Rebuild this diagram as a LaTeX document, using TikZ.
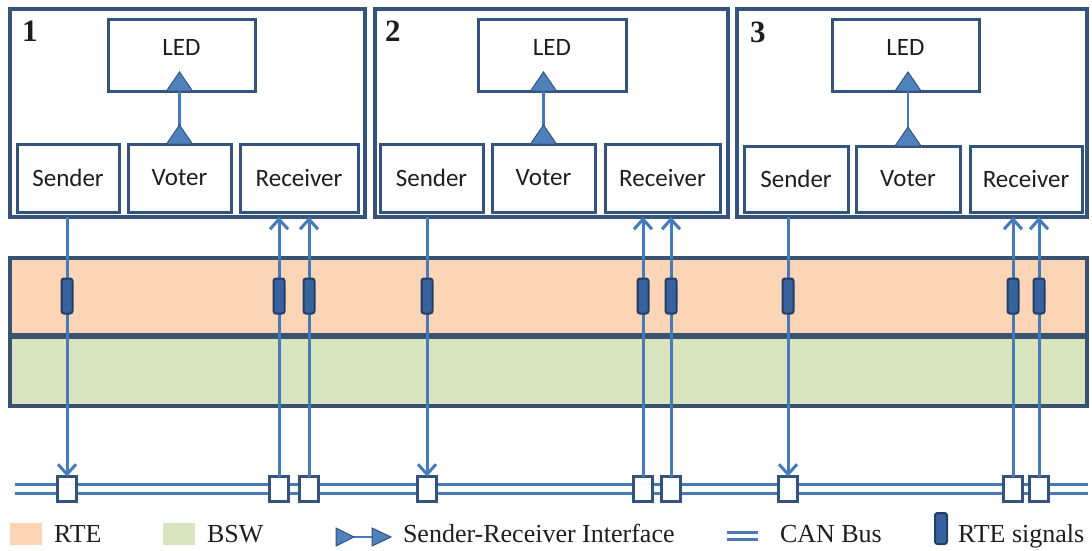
\documentclass[tikz,border=0pt]{standalone}
\usepackage{fontspec}
\setmainfont{Liberation Serif}
\newfontfamily\calfont{Carlito}
\usetikzlibrary{arrows.meta}
\definecolor{boxc}{RGB}{52,84,126}
\definecolor{linec}{RGB}{70,122,184}
\definecolor{trif}{RGB}{79,129,189}
\definecolor{rtec}{RGB}{251,213,181}
\definecolor{bswc}{RGB}{215,228,189}
\definecolor{markc}{RGB}{55,98,158}
\definecolor{markd}{RGB}{36,62,102}
\definecolor{bandc}{RGB}{58,82,114}
\definecolor{txt}{RGB}{30,30,30}
\newcommand\mkbox[7]{\node[#1, minimum width={(#5-#3)*1pt}, minimum height={(#6-#4)*1pt}] (#2) at ({(#3+#5)/2},{(#4+#6)/2}) {#7};}
\begin{document}
\begin{tikzpicture}[x=1pt,y=-1pt,
  every node/.style={inner sep=0pt, outer sep=0pt, text=txt},
  ecubox/.style={draw=boxc, line width=3.5pt, fill=white},
  comp/.style={draw=boxc, line width=3pt, fill=white, font=\calfont\fontsize{25}{25}\selectfont},
  lbl/.style={font=\calfont\fontsize{25}{25}\selectfont},
  numlbl/.style={font=\bfseries\fontsize{31}{31}\selectfont, anchor=base west},
  band/.style={draw=bandc, line width=3.5pt},
  sigline/.style={draw=linec, line width=3pt},
  conn/.style={draw=linec, line width=2.2pt},
  tip/.style={-{Straight Barb[length=10pt,width=18pt]}},
  trishape/.style={fill=trif, draw=boxc, line width=1pt},
  busline/.style={draw=linec, line width=3pt},
  busport/.style={draw=boxc, fill=white, line width=2.8pt, minimum width=19pt, minimum height=25pt},
  sigmark/.style={draw=markd, fill=markc, line width=2pt, rounded corners=2.5pt, minimum width=11pt, minimum height=35pt},
  legtxt/.style={font=\fontsize{26}{26}\selectfont, anchor=base west}
]
\useasboundingbox (0,0) rectangle (1092,550);

% layer bands
\mkbox{band, fill=rtec}{rte}{10}{258}{1087}{335}{}
\mkbox{band, fill=bswc}{bsw}{10}{337}{1087}{406}{}

% ECUs
\foreach \i/\ox/\oxx/\lx/\lxx/\sx/\sxx/\vx/\vxx/\rx/\rxx/\ty/\nx/\ny in
  {1/10/365/108/255/17/119/128/231/240/358/144/22/41,
   2/375/728/478/626/380/483/492/595/605/720/144/385/41,
   3/737/1087/832/979/744/848/856/960/970/1082/146/750/42}{
  \mkbox{ecubox}{e\i}{\ox}{9}{\oxx}{217}{}
  \mkbox{comp}{led\i}{\lx}{19}{\lxx}{91}{}
  \node[lbl] (ledt\i) at ([yshift=7.5pt]led\i.center) {LED};
  \mkbox{comp}{snd\i}{\sx}{\ty}{\sxx}{212}{Sender}
  \mkbox{comp}{vot\i}{\vx}{\ty}{\vxx}{212}{Voter}
  \mkbox{comp}{rcv\i}{\rx}{\ty}{\rxx}{212}{Receiver}
  \node[numlbl] (n\i) at (\nx,\ny) {\i};
  \coordinate (lt\i) at (vot\i.north |- led\i.south);
  \draw[conn] (vot\i.north) -- (lt\i);
  \path[trishape] ([xshift=-13pt]vot\i.north) -- ([xshift=13pt]vot\i.north) -- ([yshift=19pt]vot\i.north) -- cycle;
  \path[trishape] ([xshift=-13pt]lt\i) -- ([xshift=13pt]lt\i) -- ([yshift=19pt]lt\i) -- cycle;
}

% CAN bus
\coordinate (busL) at (15,484);
\coordinate (busR) at (1088,484);
\draw[busline] (busL) -- (busR);
\draw[busline] ([yshift=-9pt]busL) -- ([yshift=-9pt]busR);
\foreach \j/\x in {1/67,2/279,3/309,4/427,5/643,6/671,7/788,8/1013,9/1039}{
  \node[busport] (b\j) at (\x,489) {};
}

% signals
\foreach \j/\e in {1/1,4/2,7/3}{
  \draw[sigline,tip] (b\j |- e\e.south) -- (b\j.north);
}
\foreach \j/\e in {2/1,3/1,5/2,6/2,8/3,9/3}{
  \draw[sigline,tip] (b\j.north) -- (b\j |- e\e.south);
}
\foreach \j/\x in {1/67,2/279,3/309,4/427,5/643,6/671,7/788,8/1013,9/1039}{
  \node[sigmark] (m\j) at (\x,296) {};
}

% legend
\mkbox{fill=rtec}{lgrte}{10}{523}{42}{545}{}
\node[legtxt] (lgrtet) at (54,542) {RTE};
\mkbox{fill=bswc}{lgbsw}{163}{523}{195}{545}{}
\node[legtxt] (lgbswt) at (207,542) {BSW};
\draw[conn] (345,537) -- (380,537);
\path[trishape] (336,528) -- (336,546) -- (354,537) -- cycle;
\path[trishape] (372,528) -- (372,546) -- (391,537) -- cycle;
\node[legtxt] (lgsrt) at (403,542) {Sender-Receiver Interface};
\draw[busline] (727,532) -- (758,532);
\draw[busline] (727,539) -- (758,539);
\node[legtxt] (lgcant) at (780,542) {CAN Bus};
\mkbox{sigmark}{lgsig}{935}{513}{947}{544}{}
\node[legtxt] (lgsigt) at (958,542) {RTE signals};
\end{tikzpicture}
\end{document}
